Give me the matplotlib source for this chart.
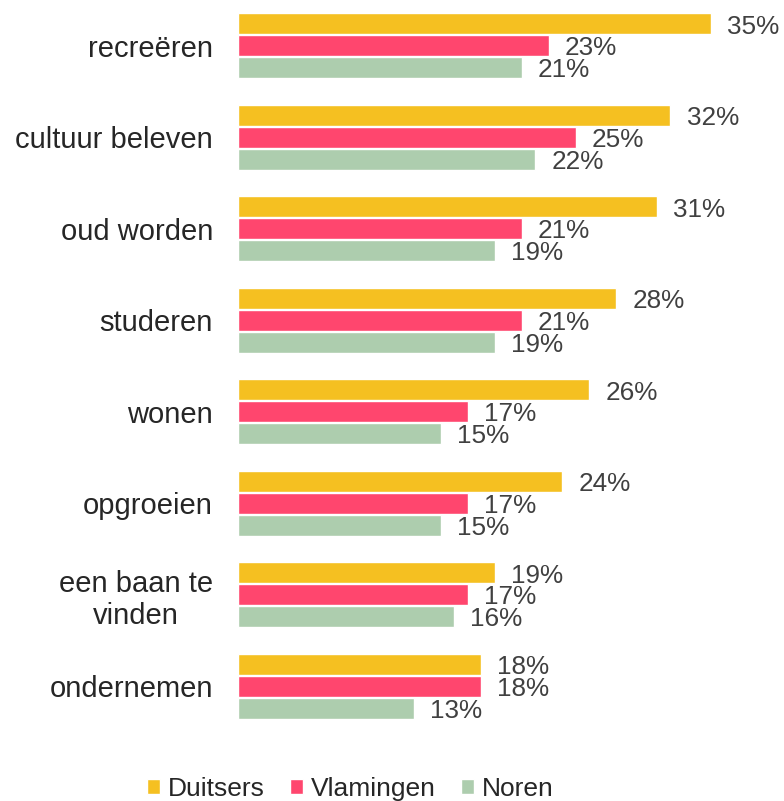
import numpy as np
import matplotlib
matplotlib.use('Agg')
import matplotlib.pyplot as plt

plt.rcParams['font.family'] = ['Liberation Sans', 'DejaVu Sans']

categories = ["recreëren", "cultuur beleven", "oud worden", "studeren", "wonen",
              "opgroeien", "een baan te\nvinden", "ondernemen"]
duitsers = [35, 32, 31, 28, 26, 24, 19, 18]
vlamingen = [23, 25, 21, 21, 17, 17, 17, 18]
noren = [21, 22, 19, 19, 15, 15, 16, 13]
series = [("Duitsers", duitsers, "#F5C021"),
          ("Vlamingen", vlamingen, "#FF466E"),
          ("Noren", noren, "#ADCDAE")]

fig = plt.figure(figsize=(7.84, 8.01), dpi=100)
ax = fig.add_axes([238 / 784, 1 - 732 / 801, 1 - 238 / 784, 732 / 801])

y = np.arange(len(categories))
h = 0.225
offsets = [-0.24, 0, 0.24]
txt_col = "#404040"
for (name, vals, col), off in zip(series, offsets):
    bars = ax.barh(y + off, vals, height=h, color=col, edgecolor="white",
                   linewidth=1, label=name)
    for b, v in zip(bars, vals):
        ax.text(v + 1.2, b.get_y() + b.get_height() / 2 + 0.03, f"{v}%",
                va="center", ha="left", fontsize=18.8, color=txt_col)

ax.set_xlim(0, (784 - 238) / 13.51)
ax.set_ylim(len(categories) - 0.5, -0.5)
ax.set_yticks(y)
ax.set_yticklabels(categories, fontsize=21, color="#262626")
for lbl in ax.get_yticklabels():
    lbl.set_multialignment("center")
ax.tick_params(axis="y", length=0, pad=18)
ax.set_xticks([])
for s in ax.spines.values():
    s.set_visible(False)

fig.legend(loc="lower center", bbox_to_anchor=(0.447, -0.03), ncol=3, frameon=False,
           fontsize=19, handlelength=0.5, handleheight=0.5, handletextpad=0.3,
           columnspacing=0.95, labelcolor="#262626")

fig.savefig("out.png", dpi=100)
